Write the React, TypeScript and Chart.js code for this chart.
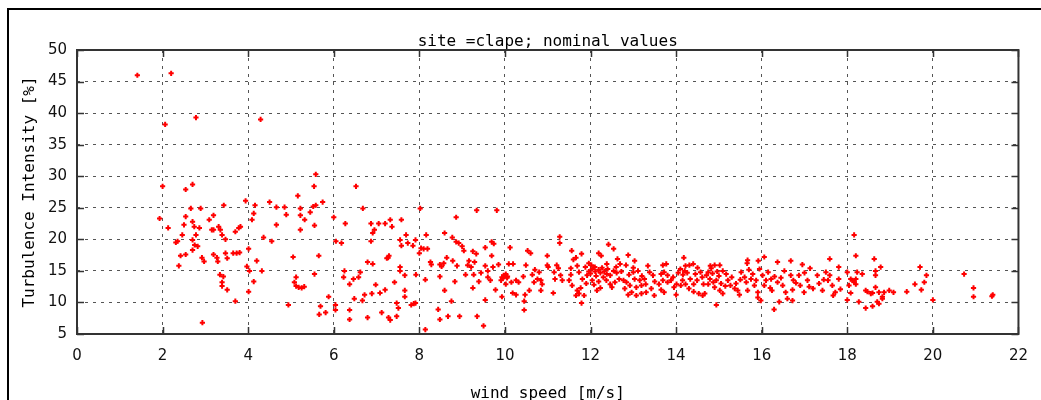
import React, { useEffect, useRef } from "react";
import { Chart, registerables } from "chart.js";

Chart.register(...registerables);

const chartTitle = "site =clape; nominal values";
const xAxisTitle = "wind speed [m/s]";
const yAxisTitle = "Turbulence Intensity [%]";

const xTickValues = [0, 2, 4, 6, 8, 10, 12, 14, 16, 18, 20, 22];
const yTickValues = [5, 10, 15, 20, 25, 30, 35, 40, 45, 50];

// [wind speed m/s, turbulence intensity %]
const highOutliers: [number, number][] = [
  [1.41, 46.0], [2.2, 46.3], [2.06, 38.2], [2.78, 39.3], [4.29, 39.0],
];

const speeds2to5: [number, number][] = [
  [2.0, 28.4], [2.54, 27.9], [2.7, 28.7], [1.93, 23.3], [2.13, 21.8], [2.66, 24.9], [2.89, 24.9], [3.43, 25.4],
  [3.94, 26.1], [4.16, 25.4], [4.5, 25.9], [4.66, 25.1], [4.85, 25.1], [4.89, 23.9], [4.13, 24.1], [4.09, 23.1],
  [4.66, 22.3], [2.54, 23.6], [2.5, 22.3], [2.7, 22.8], [2.74, 22.0], [2.86, 21.8], [3.09, 23.1], [3.19, 23.8],
  [3.15, 21.5], [3.19, 21.5], [3.31, 22.0], [3.35, 21.5], [3.39, 20.7], [3.47, 20.0], [3.7, 21.2], [3.78, 21.8],
  [3.82, 22.0], [2.46, 20.7], [2.31, 19.5], [2.35, 19.7], [2.7, 19.9], [2.78, 20.7], [2.75, 19.1], [2.82, 18.9],
  [2.7, 18.3], [2.42, 17.4], [2.54, 17.6], [2.38, 15.8], [2.92, 17.1], [2.97, 16.5], [3.19, 17.6], [3.27, 17.1],
  [3.29, 16.5], [3.47, 17.8], [3.51, 17.0], [3.65, 17.8], [3.73, 17.8], [3.8, 17.9], [3.34, 14.4], [3.42, 14.1],
  [3.39, 13.2], [3.39, 12.6], [3.51, 12.0], [3.7, 10.2], [2.93, 6.8], [4.01, 18.5], [3.97, 15.7], [4.03, 15.0],
  [4.01, 11.7], [4.13, 13.3], [4.2, 16.6], [4.32, 15.0], [4.36, 20.3], [4.55, 19.7], [4.94, 9.6],
];

const speeds5to8: [number, number][] = [
  [5.58, 30.3], [5.54, 28.4], [6.52, 28.4], [5.16, 26.9], [5.74, 25.9], [5.58, 25.4], [5.52, 25.2], [5.22, 24.9],
  [5.45, 24.3], [5.22, 23.8], [5.32, 23.1], [5.55, 22.2], [5.22, 21.5], [6.0, 23.5], [6.68, 24.9], [6.27, 22.5],
  [6.87, 22.5], [7.05, 22.5], [7.2, 22.5], [7.32, 23.1], [7.36, 22.0], [7.58, 23.1], [6.95, 21.5], [6.91, 21.0],
  [6.87, 19.7], [6.05, 19.7], [6.18, 19.4], [7.69, 20.7], [7.55, 19.9], [7.58, 19.0], [7.73, 19.4], [7.85, 19.0],
  [7.91, 19.9], [8.02, 24.9], [8.16, 20.7], [8.04, 18.6], [8.1, 18.5], [8.0, 17.8], [5.05, 17.2], [5.65, 17.4],
  [7.24, 17.0], [7.29, 17.4], [7.27, 17.1], [6.79, 16.4], [6.91, 16.1], [5.12, 14.0], [5.08, 13.2], [5.12, 12.6],
  [5.18, 12.4], [5.25, 12.3], [5.31, 12.5], [5.55, 14.5], [6.25, 15.0], [6.62, 14.8], [6.23, 14.0], [6.46, 13.7],
  [6.58, 14.0], [6.37, 12.9], [6.98, 12.8], [7.42, 13.2], [7.55, 15.6], [7.55, 15.0], [7.66, 14.3], [7.92, 14.4],
  [8.14, 13.6], [7.2, 12.0], [7.08, 11.5], [6.89, 11.4], [6.72, 11.2], [6.48, 10.6], [6.67, 10.3], [7.66, 11.9],
  [7.66, 10.9], [7.47, 9.9], [7.51, 9.1], [7.81, 9.6], [7.87, 9.8], [7.91, 9.9], [5.88, 10.9], [5.69, 9.4],
  [5.66, 8.1], [5.81, 8.4], [6.04, 9.6], [6.04, 8.8], [6.37, 8.8], [6.37, 7.3], [6.79, 7.6], [7.12, 8.4],
  [7.28, 7.6], [7.32, 7.2], [7.47, 7.8], [8.14, 5.7],
];

const speeds8to11: [number, number][] = [
  [9.34, 24.6], [9.81, 24.6], [8.86, 23.5], [8.59, 21.0], [8.77, 20.3], [8.86, 19.6], [8.92, 19.4], [9.0, 18.9],
  [9.04, 18.2], [9.69, 19.6], [9.74, 19.3], [9.54, 18.7], [9.25, 18.1], [9.33, 17.7], [10.12, 18.7], [9.69, 17.4],
  [8.19, 18.5], [8.26, 16.4], [8.28, 16.0], [8.48, 16.0], [8.52, 15.7], [8.57, 16.2], [8.64, 17.1], [8.78, 16.6],
  [8.88, 15.8], [9.16, 16.6], [9.13, 15.9], [9.21, 15.6], [9.29, 16.4], [9.08, 14.4], [9.27, 14.4], [9.44, 14.7],
  [9.54, 15.8], [9.6, 15.0], [9.72, 15.6], [9.85, 16.0], [9.6, 14.0], [9.66, 13.5], [9.39, 13.3], [8.48, 14.1],
  [8.83, 13.3], [8.59, 11.9], [9.25, 12.3], [9.78, 12.0], [9.93, 14.0], [9.97, 14.3], [10.02, 14.5], [10.06, 14.1],
  [9.91, 13.5], [10.0, 14.2], [9.95, 13.8], [10.05, 13.9], [10.09, 16.1], [10.19, 16.1], [10.02, 12.9], [10.15, 13.2],
  [10.26, 13.5], [10.32, 13.2], [10.18, 11.5], [10.26, 11.2], [9.93, 10.9], [9.54, 10.4], [8.75, 10.2], [8.44, 8.9],
  [8.48, 7.3], [8.67, 7.8], [8.94, 7.8], [9.35, 7.8], [9.5, 6.3], [10.53, 18.2], [10.6, 17.8], [10.49, 15.9],
  [10.43, 14.1], [10.64, 14.4], [10.7, 15.2], [10.8, 14.8], [10.68, 13.2], [10.76, 13.7], [10.84, 13.5], [10.87, 12.9],
  [10.84, 11.9], [10.57, 11.9], [10.47, 11.2], [10.45, 10.2], [10.45, 8.8], [10.99, 17.4], [10.99, 15.9], [11.01, 15.6],
  [11.15, 14.8], [11.21, 15.9], [11.25, 15.4], [11.17, 13.7], [11.3, 14.3], [11.34, 13.5], [11.13, 11.5], [11.28, 20.4],
  [11.28, 19.4],
];

const speeds11to15: [number, number][] = [
  [12.42, 19.2], [12.54, 18.5], [11.56, 18.2], [11.79, 17.7], [11.66, 17.1], [11.6, 16.8], [12.19, 17.8], [12.25, 17.4],
  [12.63, 16.9], [12.88, 17.5], [13.03, 16.6], [12.69, 16.1], [12.83, 15.9], [12.38, 16.1], [11.96, 16.2], [12.02, 15.9],
  [11.88, 15.6], [11.69, 15.8], [11.54, 15.4], [11.73, 14.8], [11.54, 14.4], [11.5, 13.5], [11.57, 12.7], [11.69, 11.9],
  [11.77, 12.3], [11.73, 11.4], [11.66, 11.1], [11.79, 9.9], [11.85, 11.1], [11.96, 14.9], [12.04, 15.3], [12.11, 14.9],
  [12.19, 15.2], [12.23, 14.7], [12.32, 14.9], [12.38, 14.5], [12.46, 14.3], [12.04, 13.5], [12.19, 13.3], [12.08, 12.8],
  [12.23, 12.3], [12.15, 11.9], [12.54, 15.0], [12.61, 14.7], [12.67, 13.7], [12.77, 13.5], [12.46, 12.9], [12.5, 12.4],
  [12.37, 13.5], [12.84, 13.2], [12.8, 12.2], [12.92, 12.7], [12.88, 11.2], [12.96, 11.6], [13.07, 11.1], [13.19, 11.4],
  [13.0, 14.8], [13.11, 15.0], [13.03, 13.7], [13.15, 13.5], [13.26, 13.7], [13.29, 12.9], [13.19, 12.7], [13.07, 12.4],
  [13.34, 15.8], [13.38, 14.8], [13.46, 14.3], [13.42, 12.2], [13.49, 11.1], [13.3, 11.6], [13.69, 15.9], [13.77, 16.1],
  [13.72, 14.8], [13.65, 14.5], [13.8, 14.3], [13.69, 13.5], [13.8, 13.2], [13.65, 12.0], [13.72, 11.6], [13.93, 14.0],
  [13.88, 13.5], [14.01, 12.9], [13.95, 12.4], [14.18, 17.1], [14.31, 15.9], [14.4, 16.1], [14.22, 15.8], [14.2, 15.0],
  [14.16, 14.4], [14.26, 14.7], [14.33, 13.7], [14.15, 13.5], [14.11, 12.7], [14.22, 12.9], [14.41, 12.9], [14.41, 11.7],
  [14.49, 13.5], [14.57, 14.8], [14.61, 14.0], [14.53, 11.4], [14.62, 11.1], [14.64, 12.9], [12.57, 13.2], [11.92, 14.3],
  [11.81, 13.7], [12.0, 14.6], [12.1, 15.6], [12.27, 15.5], [12.13, 14.2], [12.3, 14.0], [11.9, 13.0], [12.4, 15.3],
  [12.6, 15.6], [12.72, 14.9], [12.9, 14.4], [13.0, 15.5], [13.2, 14.2], [13.5, 13.3], [13.6, 12.9], [14.05, 14.7],
  [14.1, 15.3], [14.0, 11.2], [14.3, 12.2], [14.45, 14.5], [14.5, 15.5],
];

const speeds15to18: [number, number][] = [
  [16.06, 17.2], [15.92, 16.6], [15.67, 16.7], [15.66, 16.2], [16.37, 16.4], [16.68, 16.6], [16.95, 16.0], [17.13, 15.4],
  [17.59, 16.9], [17.8, 15.6], [14.9, 15.9], [15.02, 15.9], [14.82, 15.4], [14.75, 14.8], [14.96, 14.9], [15.09, 15.0],
  [15.17, 14.5], [14.71, 14.3], [14.79, 13.7], [14.87, 13.2], [14.94, 13.5], [14.75, 12.9], [14.9, 12.4], [15.02, 11.9],
  [15.09, 11.4], [14.94, 9.6], [14.67, 11.4], [15.21, 13.5], [15.27, 12.7], [15.37, 12.2], [15.44, 11.9], [15.48, 11.2],
  [15.4, 13.0], [15.52, 14.8], [15.6, 14.0], [15.64, 13.2], [15.75, 13.7], [15.79, 14.5], [15.87, 13.5], [15.83, 12.7],
  [15.91, 11.6], [15.91, 10.8], [15.98, 10.3], [16.02, 14.3], [16.1, 13.5], [16.06, 12.7], [16.22, 13.7], [16.24, 11.9],
  [16.29, 8.9], [16.41, 10.1], [16.37, 13.2], [16.49, 12.7], [16.53, 15.0], [16.56, 11.6], [16.68, 14.3], [16.74, 13.5],
  [16.72, 12.0], [16.72, 10.3], [16.87, 14.3], [16.9, 12.7], [16.99, 11.6], [17.07, 13.5], [17.11, 12.5], [17.3, 14.3],
  [17.34, 13.0], [17.42, 11.9], [17.55, 13.5], [17.59, 14.3], [17.65, 12.7], [17.72, 11.6], [17.8, 13.7], [17.67, 11.1],
  [17.84, 12.1], [15.67, 11.9], [16.6, 10.6], [14.85, 14.6], [15.0, 14.2], [15.05, 13.0], [15.15, 12.6], [14.8, 15.8],
  [15.3, 14.0], [15.5, 13.6], [15.7, 15.2], [15.95, 15.3], [16.15, 14.8], [16.3, 14.1], [16.45, 13.9], [16.2, 12.3],
  [16.8, 13.1], [17.0, 14.7], [17.2, 12.2], [17.45, 13.6], [17.5, 14.8],
];

const speeds18to22: [number, number][] = [
  [18.16, 20.7], [18.2, 17.4], [18.63, 16.9], [18.0, 14.8], [18.23, 14.8], [18.35, 14.5], [18.66, 15.0], [18.66, 14.3],
  [18.78, 15.6], [18.08, 13.7], [18.12, 13.5], [18.16, 13.2], [18.2, 13.7], [18.04, 12.7], [18.2, 12.9], [18.08, 11.5],
  [18.0, 10.4], [18.27, 10.1], [18.43, 11.9], [18.47, 11.7], [18.55, 11.4], [18.59, 11.5], [18.66, 12.4], [18.7, 10.1],
  [18.74, 9.8], [18.59, 9.4], [18.43, 9.1], [18.74, 11.6], [18.86, 11.6], [18.82, 10.9], [18.82, 10.6], [18.98, 11.9],
  [19.08, 11.6], [19.39, 11.7], [19.58, 12.9], [19.7, 15.6], [19.8, 13.2], [19.85, 14.3], [19.73, 12.0], [20.0, 10.4],
  [20.73, 14.5], [20.95, 12.3], [20.95, 10.9], [21.38, 11.0], [21.4, 11.2],
];

const MONO = '"DejaVu Sans Mono", monospace';
const SANS = '"DejaVu Sans", sans-serif';

const framePlugin = {
  id: "gnuplotFrame",
  beforeDraw(chart: any) {
    const { ctx } = chart;
    ctx.save();
    ctx.fillStyle = "#ffffff";
    ctx.fillRect(0, 0, chart.width, chart.height);
    ctx.restore();
  },
  afterDraw(chart: any) {
    const { ctx, chartArea } = chart;
    const { left, right, top, bottom } = chartArea;
    const xs = chart.scales.x;
    const ys = chart.scales.y;
    ctx.save();
    // outer picture frame
    ctx.fillStyle = "#000000";
    ctx.fillRect(7, 8, 2, chart.height - 8);
    ctx.fillRect(7, 8, chart.width - 7, 2);
    // inward tick marks on all four sides
    ctx.strokeStyle = "#333333";
    ctx.lineWidth = 1.5;
    ctx.beginPath();
    xTickValues.forEach((v) => {
      const px = Math.round(xs.getPixelForValue(v)) + 0.5;
      ctx.moveTo(px, bottom);
      ctx.lineTo(px, bottom - 7);
      ctx.moveTo(px, top);
      ctx.lineTo(px, top + 7);
    });
    yTickValues.forEach((v) => {
      const py = Math.round(ys.getPixelForValue(v)) + 0.5;
      ctx.moveTo(left, py);
      ctx.lineTo(left + 7, py);
      ctx.moveTo(right, py);
      ctx.lineTo(right - 7, py);
    });
    ctx.stroke();
    // plot border
    ctx.lineWidth = 2;
    ctx.strokeStyle = "#333333";
    ctx.strokeRect(left, top, right - left, bottom - top);
    // title
    ctx.fillStyle = "#000000";
    ctx.font = `16px ${MONO}`;
    ctx.textAlign = "center";
    ctx.textBaseline = "alphabetic";
    ctx.fillText(chartTitle, (left + right) / 2, 46);
    ctx.restore();
  },
};

export default function App() {
  const canvasRef = useRef<HTMLCanvasElement | null>(null);

  useEffect(() => {
    if (!canvasRef.current) return;
    const points = [
      ...highOutliers,
      ...speeds2to5,
      ...speeds5to8,
      ...speeds8to11,
      ...speeds11to15,
      ...speeds15to18,
      ...speeds18to22,
    ].map(([x, y]) => ({ x, y }));

    const chart = new Chart(canvasRef.current, {
      type: "scatter",
      data: {
        datasets: [
          {
            label: "TI",
            data: points,
            pointStyle: "cross",
            pointRadius: 2.6,
            pointHoverRadius: 2.6,
            borderColor: "#ff0000",
            backgroundColor: "#ff0000",
            pointBorderWidth: 2,
          } as any,
        ],
      },
      options: {
        responsive: false,
        animation: false,
        events: [],
        layout: { padding: { top: 50, right: 16, left: 0, bottom: 0 } },
        plugins: {
          legend: { display: false },
          tooltip: { enabled: false },
          title: { display: false },
        },
        scales: {
          x: {
            type: "linear",
            min: 0,
            max: 22,
            afterFit: (scale: any) => {
              scale.height = 66;
            },
            afterBuildTicks: (scale: any) => {
              scale.ticks = xTickValues.map((v) => ({ value: v }));
            },
            ticks: {
              autoSkip: false,
              maxRotation: 0,
              padding: 13,
              color: "#111111",
              font: { family: SANS, size: 15 },
              callback: (v: any) => String(v),
            },
            grid: {
              color: "#555555",
              lineWidth: 1,
              drawTicks: false,
            },
            border: { display: false, dash: [3, 5] },
            title: {
              display: true,
              text: xAxisTitle,
              color: "#000000",
              font: { family: MONO, size: 16 },
              padding: { top: 0, bottom: -3 },
            },
          },
          y: {
            type: "linear",
            min: 5,
            max: 50,
            afterFit: (scale: any) => {
              scale.width = 77;
            },
            afterBuildTicks: (scale: any) => {
              scale.ticks = yTickValues.map((v) => ({ value: v }));
            },
            ticks: {
              autoSkip: false,
              padding: 10,
              color: "#111111",
              font: { family: SANS, size: 15 },
              callback: (v: any) => String(v),
            },
            grid: {
              color: "#555555",
              lineWidth: 1,
              drawTicks: false,
            },
            border: { display: false, dash: [3, 5] },
            title: {
              display: true,
              text: yAxisTitle,
              color: "#000000",
              font: { family: MONO, size: 16 },
              padding: { top: 20, bottom: 0 },
            },
          },
        },
      },
      plugins: [framePlugin],
    });
    return () => chart.destroy();
  }, []);

  return (
    <canvas
      ref={canvasRef}
      width={1041}
      height={400}
      style={{ position: "absolute", left: 0, top: 0, width: 1041, height: 400, display: "block" }}
    />
  );
}
